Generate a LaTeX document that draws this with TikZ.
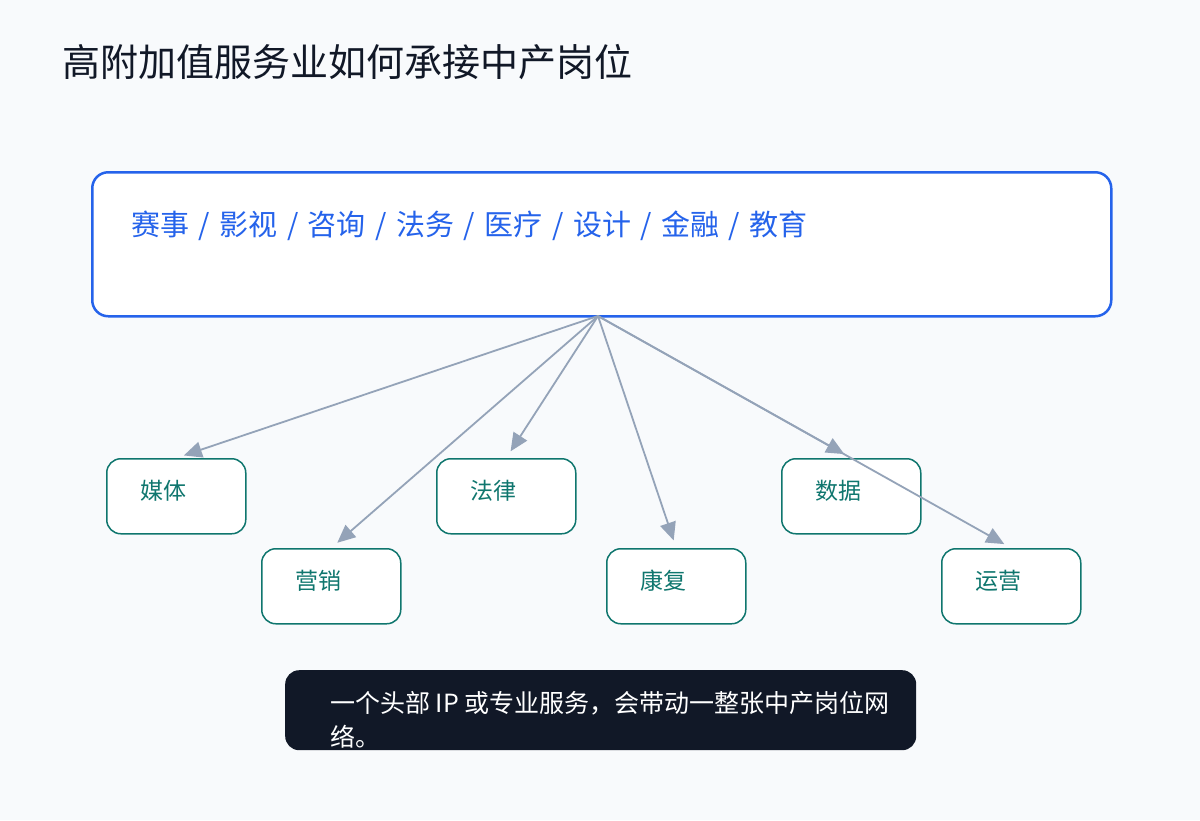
\documentclass[tikz,border=0pt]{standalone}
\usepackage{fontspec}
\setmainfont{Noto Sans CJK SC}
\usetikzlibrary{arrows.meta}
\definecolor{bg}{HTML}{F8FAFC}
\definecolor{titlec}{HTML}{111827}
\definecolor{blueb}{HTML}{2563EB}
\definecolor{teal}{HTML}{0F766E}
\definecolor{arrowc}{HTML}{94A3B8}
\definecolor{darkbox}{HTML}{111827}
\newcommand{\slashsep}{\hspace{9.5pt}/\hspace{9.5pt}}
\tikzset{
  rolebox/.style={draw=teal, line width=1.5pt, fill=white, rounded corners=14pt, minimum width=139pt, minimum height=75pt, anchor=north west, inner sep=0pt},
  roletext/.style={text=teal, font=\fontsize{23}{26}\selectfont, anchor=west, inner sep=0pt},
  link/.style={draw=arrowc, line width=1.8pt, -{Triangle[length=18pt,width=16pt]}, shorten >=8pt},
}
\begin{document}
\begin{tikzpicture}[x=1pt,y=-1pt]
\fill[bg] (0,0) rectangle (1200,820);
\useasboundingbox (0,0) rectangle (1200,820);
\node[anchor=west, inner sep=0pt, text=titlec, font=\fontsize{38}{42}\selectfont] (title) at (62,62) {高附加值服务业如何承接中产岗位};
\node[draw=blueb, line width=2.5pt, fill=white, rounded corners=16pt, minimum width=1019pt, minimum height=144pt, anchor=north west, inner sep=0pt] (top) at (91,171) {};
\node[anchor=west, inner sep=0pt, text=blueb, font=\fontsize{29}{32}\selectfont] (toptext) at (131,226) {赛事\slashsep 影视\slashsep 咨询\slashsep 法务\slashsep 医疗\slashsep 设计\slashsep 金融\slashsep 教育};
\coordinate (src) at (598,316);
\node[rolebox] (b1) at (106,458) {};
\node[rolebox] (b2) at (261,548) {};
\node[rolebox] (b3) at (436,458) {};
\node[rolebox] (b4) at (606,548) {};
\node[rolebox] (b5) at (781,458) {};
\node[rolebox] (b6) at (941,548) {};
\node[roletext] (t1) at (140,491) {媒体};
\node[roletext] (t2) at (295,581) {营销};
\node[roletext] (t3) at (470,491) {法律};
\node[roletext] (t4) at (640,581) {康复};
\node[roletext] (t5) at (815,491) {数据};
\node[roletext] (t6) at (975,581) {运营};
\draw[link] (src) -- (b1.north);
\draw[link] (src) -- (b2.north);
\draw[link] (src) -- (b3.north);
\draw[link] (src) -- (b4.north);
\draw[link] (src) -- (b5.north);
\draw[link] (src) -- (b6.north);
\node[fill=darkbox, rounded corners=14pt, minimum width=631pt, minimum height=80pt, anchor=north west, inner sep=0pt] (note) at (285,670) {};
\node[anchor=north west, inner sep=0pt, align=left, text=white, font=\fontsize{25}{34}\selectfont] (notetext) at (330,691) {一个头部 IP 或专业服务，会带动一整张中产岗位网\\络。};
\end{tikzpicture}
\end{document}
